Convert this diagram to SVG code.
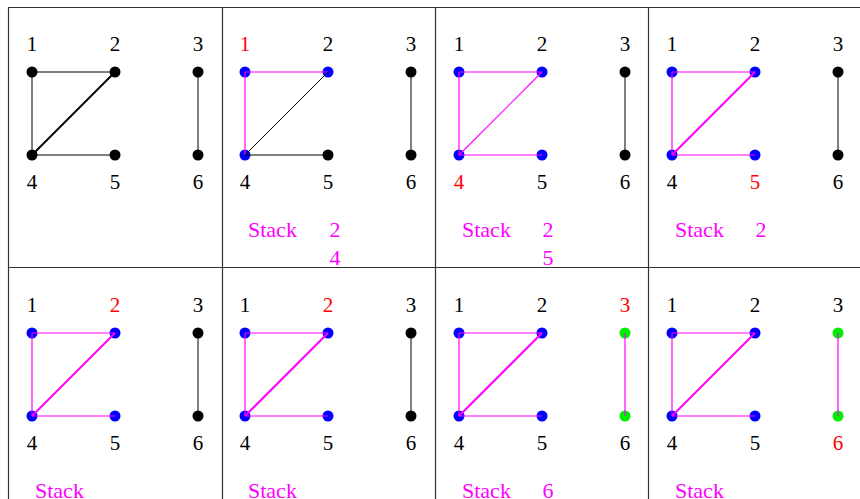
<svg xmlns="http://www.w3.org/2000/svg" width="860" height="499" viewBox="0 0 860 499" font-family="Liberation Serif, serif">
<style>
.lbl{font-family:"Liberation Serif",serif;font-size:21px;fill:#000;text-anchor:middle}
.red{fill:#ff0000}
.stk{font-family:"Liberation Serif",serif;font-size:22px;fill:#ff00ff}
.num{text-anchor:middle}
.k{fill:#000}
.b{fill:#0000ff}
.g{fill:#00ee00}
.e{stroke:#000;stroke-width:1;fill:none}
.m{stroke:#ff00ff;stroke-width:1.2;fill:none}
.t{stroke-width:2}
.grid{stroke:#333;stroke-width:1.2;fill:none}
</style>
<rect width="860" height="499" fill="#fff"/>
<path class="grid" d="M8.5,499 V7.5 H860 M222.5,7.5 V499 M435.5,7.5 V499 M648.5,7.5 V499 M8.5,267.5 H860"/>

<!-- Panel 1 -->
<g id="panel1">
<g id="p1-n1"><circle class="k" cx="32" cy="72" r="5.5"/><text class="lbl" x="32" y="51">1</text></g>
<g id="p1-n2"><circle class="k" cx="115" cy="72" r="5.5"/><text class="lbl" x="115" y="51">2</text></g>
<g id="p1-n3"><circle class="k" cx="198" cy="72" r="5.5"/><text class="lbl" x="198" y="51">3</text></g>
<g id="p1-n4"><circle class="k" cx="32" cy="155" r="5.5"/><text class="lbl" x="32" y="189">4</text></g>
<g id="p1-n5"><circle class="k" cx="115" cy="155" r="5.5"/><text class="lbl" x="115" y="189">5</text></g>
<g id="p1-n6"><circle class="k" cx="198" cy="155" r="5.5"/><text class="lbl" x="198" y="189">6</text></g>
<g id="p1-edges">
<line class="e" x1="32" y1="72" x2="115" y2="72"/>
<line class="e" x1="32" y1="72" x2="32" y2="155"/>
<line class="e t" x1="32" y1="155" x2="115" y2="72"/>
<line class="e" x1="32" y1="155" x2="115" y2="155"/>
<line class="e" x1="198" y1="72" x2="198" y2="155"/>
</g>
</g>

<!-- Panel 2 -->
<g id="panel2" transform="translate(213,0)">
<g id="p2-n1"><circle class="b" cx="32" cy="72" r="5.5"/><text class="lbl red" x="32" y="51">1</text></g>
<g id="p2-n2"><circle class="b" cx="115" cy="72" r="5.5"/><text class="lbl" x="115" y="51">2</text></g>
<g id="p2-n3"><circle class="k" cx="198" cy="72" r="5.5"/><text class="lbl" x="198" y="51">3</text></g>
<g id="p2-n4"><circle class="b" cx="32" cy="155" r="5.5"/><text class="lbl" x="32" y="189">4</text></g>
<g id="p2-n5"><circle class="k" cx="115" cy="155" r="5.5"/><text class="lbl" x="115" y="189">5</text></g>
<g id="p2-n6"><circle class="k" cx="198" cy="155" r="5.5"/><text class="lbl" x="198" y="189">6</text></g>
<g id="p2-edges">
<line class="m" x1="32" y1="72" x2="115" y2="72"/>
<line class="m" x1="32" y1="72" x2="32" y2="155"/>
<line class="e" x1="32" y1="155" x2="115" y2="72"/>
<line class="e" x1="32" y1="155" x2="115" y2="155"/>
<line class="e" x1="198" y1="72" x2="198" y2="155"/>
</g>
<g id="p2-stack"><text class="stk" x="35" y="237">Stack</text><text class="stk num" x="122" y="237">2</text><text class="stk num" x="122" y="265">4</text></g>
</g>

<!-- Panel 3 -->
<g id="panel3" transform="translate(427,0)">
<g id="p3-n1"><circle class="b" cx="32" cy="72" r="5.5"/><text class="lbl" x="32" y="51">1</text></g>
<g id="p3-n2"><circle class="b" cx="115" cy="72" r="5.5"/><text class="lbl" x="115" y="51">2</text></g>
<g id="p3-n3"><circle class="k" cx="198" cy="72" r="5.5"/><text class="lbl" x="198" y="51">3</text></g>
<g id="p3-n4"><circle class="b" cx="32" cy="155" r="5.5"/><text class="lbl red" x="32" y="189">4</text></g>
<g id="p3-n5"><circle class="b" cx="115" cy="155" r="5.5"/><text class="lbl" x="115" y="189">5</text></g>
<g id="p3-n6"><circle class="k" cx="198" cy="155" r="5.5"/><text class="lbl" x="198" y="189">6</text></g>
<g id="p3-edges">
<line class="m" x1="32" y1="72" x2="115" y2="72"/>
<line class="m" x1="32" y1="72" x2="32" y2="155"/>
<line class="m" stroke-width="1.5" x1="32" y1="155" x2="115" y2="72"/>
<line class="m" x1="32" y1="155" x2="115" y2="155"/>
<line class="e" x1="198" y1="72" x2="198" y2="155"/>
</g>
<g id="p3-stack"><text class="stk" x="35" y="237">Stack</text><text class="stk num" x="121" y="237">2</text><text class="stk num" x="121" y="265">5</text></g>
</g>

<!-- Panel 4 -->
<g id="panel4" transform="translate(640,0)">
<g id="p4-n1"><circle class="b" cx="32" cy="72" r="5.5"/><text class="lbl" x="32" y="51">1</text></g>
<g id="p4-n2"><circle class="b" cx="115" cy="72" r="5.5"/><text class="lbl" x="115" y="51">2</text></g>
<g id="p4-n3"><circle class="k" cx="198" cy="72" r="5.5"/><text class="lbl" x="198" y="51">3</text></g>
<g id="p4-n4"><circle class="b" cx="32" cy="155" r="5.5"/><text class="lbl" x="32" y="189">4</text></g>
<g id="p4-n5"><circle class="b" cx="115" cy="155" r="5.5"/><text class="lbl red" x="115" y="189">5</text></g>
<g id="p4-n6"><circle class="k" cx="198" cy="155" r="5.5"/><text class="lbl" x="198" y="189">6</text></g>
<g id="p4-edges">
<line class="m" x1="32" y1="72" x2="115" y2="72"/>
<line class="m" x1="32" y1="72" x2="32" y2="155"/>
<line class="m t" x1="32" y1="155" x2="115" y2="72"/>
<line class="m" x1="32" y1="155" x2="115" y2="155"/>
<line class="e" x1="198" y1="72" x2="198" y2="155"/>
</g>
<g id="p4-stack"><text class="stk" x="35" y="237">Stack</text><text class="stk num" x="121" y="237">2</text></g>
</g>

<!-- Panel 5 -->
<g id="panel5" transform="translate(0,261)">
<g id="p5-n1"><circle class="b" cx="32" cy="72" r="5.5"/><text class="lbl" x="32" y="51">1</text></g>
<g id="p5-n2"><circle class="b" cx="115" cy="72" r="5.5"/><text class="lbl red" x="115" y="51">2</text></g>
<g id="p5-n3"><circle class="k" cx="198" cy="72" r="5.5"/><text class="lbl" x="198" y="51">3</text></g>
<g id="p5-n4"><circle class="b" cx="32" cy="155" r="5.5"/><text class="lbl" x="32" y="189">4</text></g>
<g id="p5-n5"><circle class="b" cx="115" cy="155" r="5.5"/><text class="lbl" x="115" y="189">5</text></g>
<g id="p5-n6"><circle class="k" cx="198" cy="155" r="5.5"/><text class="lbl" x="198" y="189">6</text></g>
<g id="p5-edges">
<line class="m" x1="32" y1="72" x2="115" y2="72"/>
<line class="m" x1="32" y1="72" x2="32" y2="155"/>
<line class="m t" x1="32" y1="155" x2="115" y2="72"/>
<line class="m" x1="32" y1="155" x2="115" y2="155"/>
<line class="e" x1="198" y1="72" x2="198" y2="155"/>
</g>
<g id="p5-stack"><text class="stk" x="35" y="237">Stack</text></g>
</g>

<!-- Panel 6 -->
<g id="panel6" transform="translate(213,261)">
<g id="p6-n1"><circle class="b" cx="32" cy="72" r="5.5"/><text class="lbl" x="32" y="51">1</text></g>
<g id="p6-n2"><circle class="b" cx="115" cy="72" r="5.5"/><text class="lbl red" x="115" y="51">2</text></g>
<g id="p6-n3"><circle class="k" cx="198" cy="72" r="5.5"/><text class="lbl" x="198" y="51">3</text></g>
<g id="p6-n4"><circle class="b" cx="32" cy="155" r="5.5"/><text class="lbl" x="32" y="189">4</text></g>
<g id="p6-n5"><circle class="b" cx="115" cy="155" r="5.5"/><text class="lbl" x="115" y="189">5</text></g>
<g id="p6-n6"><circle class="k" cx="198" cy="155" r="5.5"/><text class="lbl" x="198" y="189">6</text></g>
<g id="p6-edges">
<line class="m" x1="32" y1="72" x2="115" y2="72"/>
<line class="m" x1="32" y1="72" x2="32" y2="155"/>
<line class="m t" x1="32" y1="155" x2="115" y2="72"/>
<line class="m" x1="32" y1="155" x2="115" y2="155"/>
<line class="e" x1="198" y1="72" x2="198" y2="155"/>
</g>
<g id="p6-stack"><text class="stk" x="35" y="237">Stack</text></g>
</g>

<!-- Panel 7 -->
<g id="panel7" transform="translate(427,261)">
<g id="p7-n1"><circle class="b" cx="32" cy="72" r="5.5"/><text class="lbl" x="32" y="51">1</text></g>
<g id="p7-n2"><circle class="b" cx="115" cy="72" r="5.5"/><text class="lbl" x="115" y="51">2</text></g>
<g id="p7-n3"><circle class="g" cx="198" cy="72" r="5.5"/><text class="lbl red" x="198" y="51">3</text></g>
<g id="p7-n4"><circle class="b" cx="32" cy="155" r="5.5"/><text class="lbl" x="32" y="189">4</text></g>
<g id="p7-n5"><circle class="b" cx="115" cy="155" r="5.5"/><text class="lbl" x="115" y="189">5</text></g>
<g id="p7-n6"><circle class="g" cx="198" cy="155" r="5.5"/><text class="lbl" x="198" y="189">6</text></g>
<g id="p7-edges">
<line class="m" x1="32" y1="72" x2="115" y2="72"/>
<line class="m" x1="32" y1="72" x2="32" y2="155"/>
<line class="m t" x1="32" y1="155" x2="115" y2="72"/>
<line class="m" x1="32" y1="155" x2="115" y2="155"/>
<line class="m" x1="198" y1="72" x2="198" y2="155"/>
</g>
<g id="p7-stack"><text class="stk" x="35" y="237">Stack</text><text class="stk num" x="121" y="237">6</text></g>
</g>

<!-- Panel 8 -->
<g id="panel8" transform="translate(640,261)">
<g id="p8-n1"><circle class="b" cx="32" cy="72" r="5.5"/><text class="lbl" x="32" y="51">1</text></g>
<g id="p8-n2"><circle class="b" cx="115" cy="72" r="5.5"/><text class="lbl" x="115" y="51">2</text></g>
<g id="p8-n3"><circle class="g" cx="198" cy="72" r="5.5"/><text class="lbl" x="198" y="51">3</text></g>
<g id="p8-n4"><circle class="b" cx="32" cy="155" r="5.5"/><text class="lbl" x="32" y="189">4</text></g>
<g id="p8-n5"><circle class="b" cx="115" cy="155" r="5.5"/><text class="lbl" x="115" y="189">5</text></g>
<g id="p8-n6"><circle class="g" cx="198" cy="155" r="5.5"/><text class="lbl red" x="198" y="189">6</text></g>
<g id="p8-edges">
<line class="m" x1="32" y1="72" x2="115" y2="72"/>
<line class="m" x1="32" y1="72" x2="32" y2="155"/>
<line class="m t" x1="32" y1="155" x2="115" y2="72"/>
<line class="m" x1="32" y1="155" x2="115" y2="155"/>
<line class="m" x1="198" y1="72" x2="198" y2="155"/>
</g>
<g id="p8-stack"><text class="stk" x="35" y="237">Stack</text></g>
</g>
</svg>
